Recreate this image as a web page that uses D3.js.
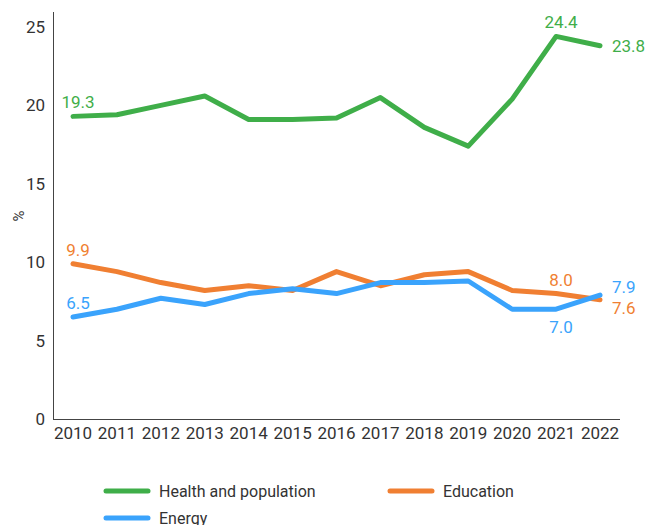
<!DOCTYPE html>
<html>
<head>
<meta charset="utf-8">
<script src="https://cdn.jsdelivr.net/npm/d3@7"></script>
<style>
  body { margin: 0; background: #fff; }
  svg { display: block; font-family: Roboto, "Noto Sans", sans-serif; }
</style>
</head>
<body>
<svg id="chart" width="646" height="525"></svg>
<script>
// data
const years = [2010, 2011, 2012, 2013, 2014, 2015, 2016, 2017, 2018, 2019, 2020, 2021, 2022]
const health = [19.3, 19.4, 20.0, 20.6, 19.1, 19.1, 19.2, 20.5, 18.6, 17.4, 20.4, 24.4, 23.8]
const education = [9.9, 9.4, 8.7, 8.2, 8.5, 8.2, 9.4, 8.5, 9.2, 9.4, 8.2, 8.0, 7.6]
const energy = [6.5, 7.0, 7.7, 7.3, 8.0, 8.3, 8.0, 8.7, 8.7, 8.8, 7.0, 7.0, 7.9]
const yTicks = [0, 5, 10, 15, 20, 25]
const seriesNames = ["Health and population", "Education", "Energy"]
const seriesColors = ["#3fae49", "#f07f32", "#3aa3fc"]

// value labels: [series index, year index, where]
const valueLabels = [
    [0, 0, "above"], [0, 11, "above"], [0, 12, "right"],
    [1, 0, "above"], [1, 11, "above"], [1, 12, "rightBelow"],
    [2, 0, "above"], [2, 11, "below"], [2, 12, "rightAbove"],
]

const svg = d3.select("#chart")
const series = [health, education, energy]

const x = d3.scalePoint().domain(years).range([73, 600])
const y = d3.scaleLinear().domain([0, 25]).range([419, 27])

// axes
const textCol = "#333"
svg.append("line")
    .attr("x1", 53.5).attr("x2", 53.5).attr("y1", 12).attr("y2", 419.5)
    .attr("stroke", "#444").attr("stroke-width", 1)
svg.append("line")
    .attr("x1", 53).attr("x2", 620).attr("y1", 419.5).attr("y2", 419.5)
    .attr("stroke", "#444").attr("stroke-width", 1)

svg.append("g").selectAll("text")
    .data(yTicks)
    .join("text")
    .attr("x", 45).attr("y", d => y(d))
    .attr("dy", "0.35em")
    .attr("text-anchor", "end")
    .attr("font-size", 17)
    .attr("fill", textCol)
    .text(d => d)

svg.append("g").selectAll("text")
    .data(years)
    .join("text")
    .attr("x", d => x(d)).attr("y", 439)
    .attr("text-anchor", "middle")
    .attr("font-size", 17)
    .attr("fill", textCol)
    .text(d => d)

svg.append("text")
    .attr("transform", "translate(24,216) rotate(-90)")
    .attr("text-anchor", "middle")
    .attr("font-size", 15)
    .attr("fill", textCol)
    .text("%")

// lines
const line = d3.line().x((d, i) => x(years[i])).y(d => y(d))
series.forEach((s, k) => {
    svg.append("path")
        .datum(s)
        .attr("fill", "none")
        .attr("stroke", seriesColors[k])
        .attr("stroke-width", 5)
        .attr("stroke-linejoin", "round")
        .attr("stroke-linecap", "round")
        .attr("d", line)
})

// value labels
valueLabels.forEach(([k, i, where]) => {
    const v = series[k][i]
    const px = x(years[i]), py = y(v)
    let tx = px + 5, ty = py - 8, anchor = "middle"
    if (where === "below") { ty = py + 24 }
    if (where === "right") { tx = px + 12; ty = py + 6; anchor = "start" }
    if (where === "rightAbove") { tx = px + 12; ty = py - 2; anchor = "start" }
    if (where === "rightBelow") { tx = px + 12; ty = py + 14; anchor = "start" }
    svg.append("text")
        .attr("x", tx).attr("y", ty)
        .attr("text-anchor", anchor)
        .attr("font-size", 17)
        .attr("fill", seriesColors[k])
        .text(v.toFixed(1))
})

// legend
const legendPos = [[106, 491], [390, 491], [106, 518]]
seriesNames.forEach((name, k) => {
    const [lx, ly] = legendPos[k]
    svg.append("line")
        .attr("x1", lx).attr("x2", lx + 42).attr("y1", ly).attr("y2", ly)
        .attr("stroke", seriesColors[k]).attr("stroke-width", 5)
        .attr("stroke-linecap", "round")
    svg.append("text")
        .attr("x", lx + 53).attr("y", ly)
        .attr("dy", "0.35em")
        .attr("font-size", 16)
        .attr("fill", textCol)
        .text(name)
})
</script>
</body>
</html>
